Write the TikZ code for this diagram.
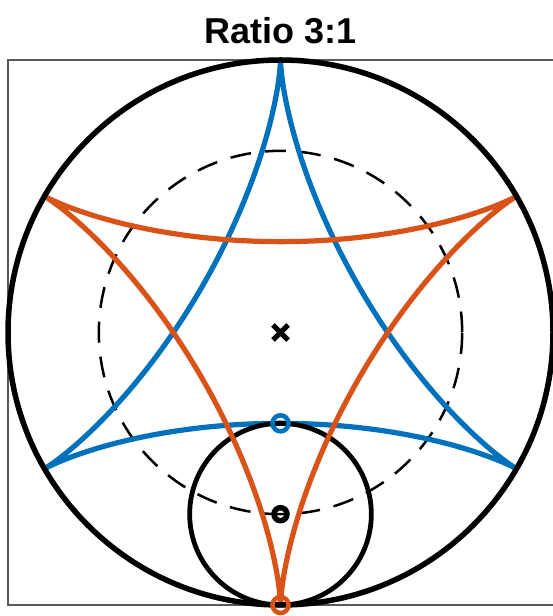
\documentclass[tikz,border=0pt]{standalone}
\usepackage{fontspec}
\setmainfont{Liberation Sans}
\usetikzlibrary{calc}
\definecolor{mblue}{rgb}{0,0.447,0.741}
\definecolor{morange}{rgb}{0.85,0.325,0.098}
\definecolor{boxgray}{gray}{0.35}
\tikzset{
  axbox/.style={draw=boxgray, line width=1.3pt},
  bigcirc/.style={draw=black, line width=5.5pt},
  smallcirc/.style={draw=black, line width=4.8pt},
  dashcirc/.style={draw=black, line width=2.5pt, dash pattern=on 21pt off 14pt},
  deltblue/.style={draw=mblue, line width=5.2pt, line join=round},
  deltorange/.style={draw=morange, line width=5.2pt, line join=round},
  omark/.style={circle, draw=#1, line width=4.6pt, minimum size=16pt, inner sep=0pt},
}
\begin{document}
\begin{tikzpicture}[x=1pt, y=1pt]
\useasboundingbox (0,0) rectangle (553,616);
\def\rr{90.833}
\coordinate (C) at (280.5,283.5);
\coordinate (SC) at (280.5,101.83);
\coordinate (BL) at (8,11);
\coordinate (TL) at (8,556);
\coordinate (TR) at (554,556);
\coordinate (BR) at (554,11);
\node[font=\bfseries\fontsize{36}{42}\selectfont, anchor=base] (title) at (280.5,572) {Ratio 3:1};
\draw[axbox] (TR) -- (TL) -- (BL) -- (BR);
\draw[dashcirc] (C) circle (181.67);
\begin{scope}[shift={(C)}, rotate=90]
  \draw[deltblue] plot[domain=0:360, samples=361, variable=\t] ({\rr*(2*cos(\t)+cos(2*\t))},{\rr*(2*sin(\t)-sin(2*\t))}) -- cycle;
\end{scope}
\draw[smallcirc] (SC) circle (\rr);
\begin{scope}[shift={(C)}, rotate=270]
  \draw[deltorange] plot[domain=0:360, samples=361, variable=\t] ({\rr*(2*cos(\t)+cos(2*\t))},{\rr*(2*sin(\t)-sin(2*\t))}) -- cycle;
\end{scope}
\draw[bigcirc] (C) circle (272.5);
\node (xm) at (C) {};
\draw[line width=5.2pt] ($(C)+(-7.5,-7.5)$) -- ($(C)+(7.5,7.5)$) ($(C)+(-7.5,7.5)$) -- ($(C)+(7.5,-7.5)$);
\node[omark=black, minimum size=13pt, line width=5.5pt] (om) at (SC) {};
\node[omark=mblue] (bm) at (280.5,192.67) {};
\node[omark=morange] (orm) at (280.5,11) {};
\end{tikzpicture}
\end{document}
